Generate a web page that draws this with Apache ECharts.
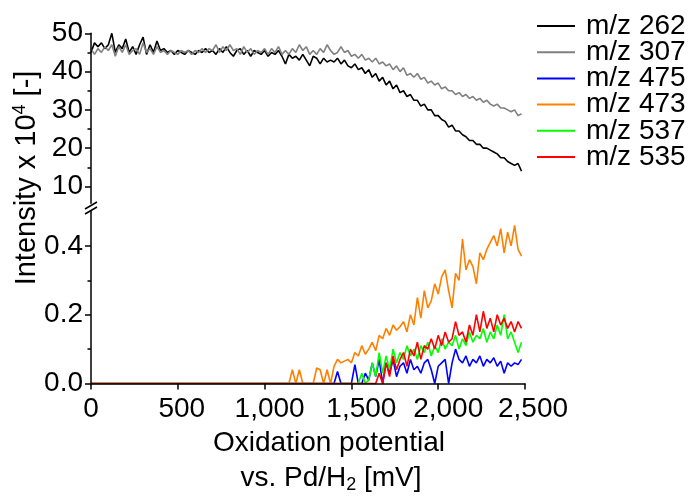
<!DOCTYPE html>
<html><head><meta charset="utf-8">
<script src="https://cdn.jsdelivr.net/npm/echarts@6/dist/echarts.min.js"></script>
<style>html,body{margin:0;padding:0;background:#fff}#c{width:696px;height:497px}</style>
</head><body><div id="c"></div>
<script>
// Oxidation potential vs. Pd/H2 [mV]
const potential = [
  0,20,40,60,80,100,120,140,160,180,
  200,220,240,260,280,300,320,340,360,380,
  400,420,440,460,480,500,520,540,560,580,
  600,620,640,660,680,700,720,740,760,780,
  800,820,840,860,880,900,920,940,960,980,
  1000,1020,1040,1060,1080,1100,1120,1140,1160,1180,
  1200,1220,1240,1260,1280,1300,1320,1340,1360,1380,
  1400,1420,1440,1460,1480,1500,1520,1540,1560,1580,
  1600,1620,1640,1660,1680,1700,1720,1740,1760,1780,
  1800,1820,1840,1860,1880,1900,1920,1940,1960,1980,
  2000,2020,2040,2060,2080,2100,2120,2140,2160,2180,
  2200,2220,2240,2260,2280,2300,2320,2340,2360,2380,
  2400,2420,2440,2460,2480
];
// Intensity x 10^4, upper panel
const mz262 = [
  45,47.5,46.5,47.5,46,47,50,45,47,46,
  48.5,45,46.5,44.5,47,49,44.5,47,45,48,
  45.5,46,45,45.5,44.5,45.5,45,44.5,45.5,45,
  44.5,45.5,45,46,45,45.5,44.5,46,45,46.5,
  45,44,45.5,46,44.5,45.5,44,45.5,45,44.5,
  45.5,44,45,44.5,45.5,44,42,44.5,43.5,44,
  43,44.5,43,41.5,44,43.5,42,43.5,42.5,43,
  42.5,43.5,42,43,41.5,41,42,40.5,41,39.5,
  40.5,38.5,39.5,37.5,38.5,36.5,37.5,35.5,36.5,34.5,
  35,33.5,34,32.5,32.5,31,31.5,30,30,28.5,
  28.5,27.5,27,25.5,26,24.5,24.5,23.5,23,22,
  22,21,21,20,20,19.5,19,18.5,17.5,17.5,
  16.5,16,15.5,16,14
];
const mz307 = [
  46,44.5,46,45,46.5,45.5,47,44,46.5,45,
  47,44.5,45.5,46,44.5,47.5,45,46,44.5,46.5,
  45,45.5,44.5,45.5,45,44.5,45.5,45,45.5,44.5,
  45.5,45,46,45,46,45.5,47,45,46.5,45.5,
  47,45.5,46,44.5,46.5,45,46,44.5,45.5,45,
  46,44.5,46,45,46.5,44.5,45.5,44.5,46,45,
  47,45.5,46.5,44.5,45.5,44.5,46,45,47,45.5,
  44.5,45,46.5,45,45.5,44,44.5,43.5,44.5,43,
  43.5,42.5,43.5,42,42.5,41.5,42,40.5,41.5,40,
  41,39,39.5,38.5,39.5,38,38.5,37,37.5,36.5,
  37,35.5,36,35,35,34,34.5,33.5,34,33,
  33.5,32.5,33,32,32.5,31.5,31,31.5,30.5,30.5,
  30,29.5,30,28.5,29
];
// Intensity x 10^4, lower panel
const mz475 = [
  0,0,0,0,0,0,0,0,0,0,
  0,0,0,0,0,0,0,0,0,0,
  0,0,0,0,0,0,0,0,0,0,
  0,0,0,0,0,0,0,0,0,0,
  0,0,0,0,0,0,0,0,0,0,
  0,0,0,0,0,0,0,0,0,0,
  0,0,0,0,0,0,0,0,0,0,
  0,0.035,0,0,0,0,0.055,0,0,0.03,
  0.01,0.06,0.02,0.07,0,0.06,0.03,0.07,0.02,0.05,
  0.06,0.03,0.07,0.04,0.05,0.03,0.06,0.07,0.04,0,
  0.05,0.06,0.07,0,0.06,0.1,0.07,0.06,0.08,0.05,
  0.07,0.06,0.08,0.05,0.07,0.06,0.075,0.05,0.065,0.03,
  0.06,0.05,0.06,0.055,0.07
];
const mz473 = [
  0,0,0,0,0,0,0,0,0,0,
  0,0,0,0,0,0,0,0,0,0,
  0,0,0,0,0,0,0,0,0,0,
  0,0,0,0,0,0,0,0,0,0,
  0,0,0,0,0,0,0,0,0,0,
  0,0,0,0,0,0,0,0,0.04,0,
  0.04,0,0,0,0,0.045,0.04,0,0.04,0,
  0.05,0.07,0.06,0.065,0.07,0.06,0.09,0.08,0.11,0.085,
  0.1,0.12,0.095,0.14,0.13,0.16,0.14,0.17,0.155,0.165,
  0.18,0.15,0.2,0.17,0.25,0.19,0.27,0.22,0.24,0.29,
  0.26,0.31,0.33,0.27,0.22,0.32,0.3,0.42,0.33,0.36,
  0.34,0.29,0.38,0.36,0.39,0.41,0.43,0.4,0.45,0.38,
  0.44,0.4,0.46,0.39,0.37
];
const mz537 = [
  0,0,0,0,0,0,0,0,0,0,
  0,0,0,0,0,0,0,0,0,0,
  0,0,0,0,0,0,0,0,0,0,
  0,0,0,0,0,0,0,0,0,0,
  0,0,0,0,0,0,0,0,0,0,
  0,0,0,0,0,0,0,0,0,0,
  0,0,0,0,0,0,0,0,0,0,
  0,0,0,0,0,0,0,0,0.03,0,
  0.01,0.06,0.02,0.09,0.03,0.08,0.04,0.1,0.06,0.09,
  0.07,0.11,0.08,0.1,0.07,0.11,0.09,0.12,0.08,0.11,
  0.09,0.13,0.1,0.12,0.11,0.14,0.1,0.13,0.11,0.15,
  0.12,0.14,0.13,0.16,0.12,0.15,0.13,0.17,0.14,0.2,
  0.13,0.15,0.12,0.09,0.12
];
const mz535 = [
  0,0,0,0,0,0,0,0,0,0,
  0,0,0,0,0,0,0,0,0,0,
  0,0,0,0,0,0,0,0,0,0,
  0,0,0,0,0,0,0,0,0,0,
  0,0,0,0,0,0,0,0,0,0,
  0,0,0,0,0,0,0,0,0,0,
  0,0,0,0,0,0,0,0,0,0,
  0,0,0,0,0,0,0,0,0,0,
  0,0,0,0.03,0,0.06,0.02,0.08,0.04,0.07,
  0.09,0.05,0.1,0.08,0.12,0.07,0.11,0.1,0.13,0.1,
  0.14,0.11,0.15,0.12,0.13,0.18,0.14,0.15,0.12,0.17,
  0.14,0.2,0.15,0.21,0.16,0.19,0.15,0.2,0.17,0.19,
  0.16,0.18,0.15,0.18,0.16
];
const seriesNames = ['m/z 262','m/z 307','m/z 475','m/z 473','m/z 537','m/z 535'];
const seriesColors = ['#000000','#808080','#0000ff','#ff8000','#00ff00','#ff0000'];
const xTicks = [0,500,1000,1500,2000,2500];
const upperTicks = [10,20,30,40,50];
const upperMinorTicks = [15,25,35,45];
const lowerTicks = [0,0.2,0.4];
const lowerMinorTicks = [0.1,0.3];

const FONT = '"Liberation Sans", Arial, sans-serif';
const FS = 28;
const G_LEFT = 91, G_W = 434;
const UP_TOP = 33.3, UP_H = 170, LO_TOP = 211.5, LO_H = 172;

function pairs(arr){ return potential.map((x,i)=>[x, arr[i]]); }
const axisLineStyle = {color:'#000', width:1.5};

const chart = echarts.init(document.getElementById('c'), null, {renderer:'canvas'});
const upperData = [mz262, mz307];
const lowerData = [mz475, mz473, mz537, mz535];

const series = [];
upperData.forEach((d,i)=>series.push({
  name: seriesNames[i], type:'line', xAxisIndex:0, yAxisIndex:0,
  data: pairs(d), showSymbol:false, symbol:'none', color: seriesColors[i],
  lineStyle:{width:1.6, color: seriesColors[i]}, animation:false, z: 2
}));
lowerData.forEach((d,j)=>series.push({
  name: seriesNames[j+2], type:'line', xAxisIndex:1, yAxisIndex:2,
  data: pairs(d), showSymbol:false, symbol:'none', color: seriesColors[j+2],
  lineStyle:{width:1.6, color: seriesColors[j+2]}, animation:false, z: 2
}));

function yAxisMajor(grid, min, max, ticks, fmt){
  return {type:'value', gridIndex:grid, min, max, position:'left',
    axisLine:{show:true, lineStyle:axisLineStyle},
    axisTick:{show:true, length:6, lineStyle:axisLineStyle, customValues:ticks},
    axisLabel:{show:true, customValues:ticks, fontSize:FS, color:'#000', fontFamily:FONT, margin:8, formatter:fmt},
    splitLine:{show:false}, z:10};
}
function yAxisMinor(grid, min, max, ticks){
  return {type:'value', gridIndex:grid, min, max, position:'left',
    axisLine:{show:false},
    axisTick:{show:true, length:3.5, lineStyle:axisLineStyle, customValues:ticks},
    axisLabel:{show:false}, splitLine:{show:false}, z:10};
}
// per-label horizontal nudge of the x tick labels (style only)
const xLabelNudge = {0:0, 500:4, 1000:5, 1500:10, 2000:10, 2500:8};
const xRich = {};
Object.keys(xLabelNudge).forEach(k=>{
  xRich['n'+k] = {fontSize:FS, color:'#000', fontFamily:FONT, padding:[0,0,0,2*xLabelNudge[k]]};
});

chart.setOption({
  animation:false,
  backgroundColor:'#fff',
  grid:[
    {left:G_LEFT, top:UP_TOP, width:G_W, height:UP_H},
    {left:G_LEFT, top:LO_TOP, width:G_W, height:LO_H}
  ],
  xAxis:[
    {type:'value', gridIndex:0, min:0, max:2500, show:false},
    {type:'value', gridIndex:1, min:0, max:2500, interval:500,
      axisLine:{show:true, onZero:false, lineStyle:axisLineStyle},
      axisTick:{show:true, length:6, lineStyle:axisLineStyle, customValues:xTicks},
      axisLabel:{customValues:xTicks, fontSize:FS, color:'#000', fontFamily:FONT, margin:12,
        formatter:v=>'{n'+v+'|'+v.toLocaleString('en-US')+'}', rich:xRich},
      splitLine:{show:false}, z:10}
  ],
  yAxis:[
    yAxisMajor(0, 5.6, 50, upperTicks, v=>String(v)),
    yAxisMinor(0, 5.6, 50, upperMinorTicks),
    yAxisMajor(1, 0, 0.5, lowerTicks, v=>v.toFixed(1)),
    yAxisMinor(1, 0, 0.5, lowerMinorTicks)
  ],
  legend:{
    data: seriesNames, orient:'vertical', left:537, top:12, padding:0,
    icon:'rect', itemWidth:38, itemHeight:2, itemGap:-1.8,
    textStyle:{fontSize:FS, color:'#000', fontFamily:FONT, lineHeight:26, padding:[0,0,0,6]},
    selectedMode:false
  },
  series,
  graphic:[
    {type:'line', shape:{x1:85, y1:209, x2:97, y2:202}, style:{stroke:'#000', lineWidth:1.5}, z:20},
    {type:'line', shape:{x1:85, y1:214, x2:97, y2:207}, style:{stroke:'#000', lineWidth:1.5}, z:20},
    {type:'text', x:27, y:178, rotation:Math.PI/2, z:20,
      style:{text:'{a|Intensity x 10}{b|4}{a| [-]}', align:'center', verticalAlign:'middle',
        rich:{a:{fontSize:29, fontFamily:FONT, fill:'#000', lineHeight:32},
              b:{fontSize:18, fontFamily:FONT, fill:'#000', lineHeight:18, verticalAlign:'top'}}}},
    {type:'text', x:329, y:443, z:20,
      style:{text:'Oxidation potential', align:'center', verticalAlign:'middle', fontSize:FS, fontFamily:FONT, fill:'#000'}},
    {type:'text', x:331, y:478, z:20,
      style:{text:'{a|vs. Pd/H}{b|2}{a| [mV]}', align:'center', verticalAlign:'middle',
        rich:{a:{fontSize:FS, fontFamily:FONT, fill:'#000', lineHeight:32},
              b:{fontSize:18, fontFamily:FONT, fill:'#000', lineHeight:18, verticalAlign:'bottom'}}}}
  ]
});
</script></body></html>
